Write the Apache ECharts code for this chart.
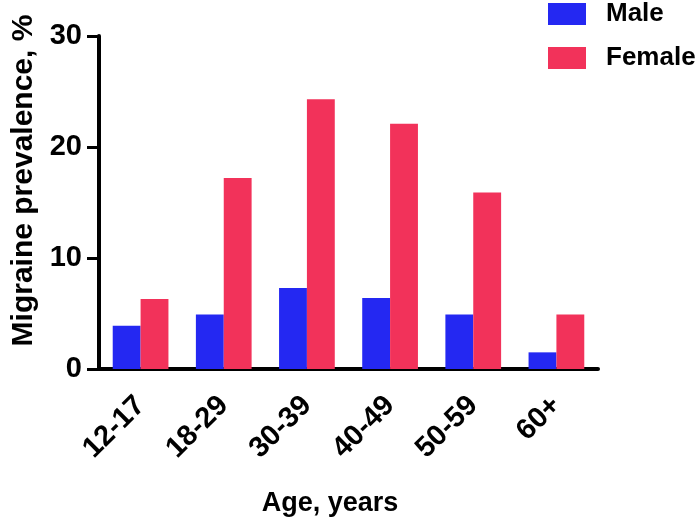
<!DOCTYPE html>
<html>
<head>
<meta charset="utf-8">
<script src="https://cdn.jsdelivr.net/npm/echarts@6/dist/echarts.min.js"></script>
<style>html,body{margin:0;padding:0;background:#fff}#c{width:700px;height:522px}</style>
</head>
<body>
<div id="c"></div>
<script>
const categories = ['12-17', '18-29', '30-39', '40-49', '50-59', '60+'];
const maleValues = [3.9, 4.9, 7.3, 6.4, 4.9, 1.5];
const femaleValues = [6.3, 17.2, 24.3, 22.1, 15.9, 4.9];
const seriesNames = ['Male', 'Female'];

const font = '"Liberation Sans", Arial, sans-serif';
const chart = echarts.init(document.getElementById('c'), null, {renderer: 'canvas'});
chart.setOption({
  animation: false,
  backgroundColor: '#fff',
  legend: {
    orient: 'vertical',
    left: 543,
    top: -4,
    itemWidth: 38,
    itemHeight: 22,
    itemGap: 18,
    icon: 'rect',
    textStyle: {fontFamily: font, fontWeight: 'bold', fontSize: 26, lineHeight: 22, color: '#000', padding: [0, 0, 0, 15]},
    data: seriesNames
  },
  grid: {left: 99, right: 102, top: 36, bottom: 153, containLabel: false},
  xAxis: {
    type: 'category',
    data: categories,
    name: 'Age, years',
    nameLocation: 'middle',
    nameGap: 121,
    nameTextStyle: {fontFamily: font, fontWeight: 'bold', fontSize: 27, color: '#000', padding: [0, 37, 0, 0]},
    axisLine: {lineStyle: {color: '#000', width: 4}},
    axisTick: {alignWithLabel: true, length: 11, lineStyle: {color: '#000', width: 3}},
    axisLabel: {rotate: 45, fontFamily: font, fontWeight: 'bold', fontSize: 29, color: '#000', margin: 32, interval: 0}
  },
  yAxis: {
    type: 'value',
    min: 0, max: 30, interval: 10,
    name: 'Migraine prevalence, %',
    nameLocation: 'middle',
    nameGap: 60,
    nameTextStyle: {fontFamily: font, fontWeight: 'bold', fontSize: 30, color: '#000', padding: [0, 0, 0, 44]},
    axisLine: {show: true, lineStyle: {color: '#000', width: 4}},
    axisTick: {show: true, length: 12, lineStyle: {color: '#000', width: 3}},
    splitLine: {show: false},
    axisLabel: {fontFamily: font, fontWeight: 'bold', fontSize: 29, color: '#000', margin: 17}
  },
  series: [
    {name: seriesNames[0], type: 'bar', data: maleValues, barGap: '0%', barCategoryGap: '33%', itemStyle: {color: '#2428F2'}},
    {name: seriesNames[1], type: 'bar', data: femaleValues, barGap: '0%', barCategoryGap: '33%', itemStyle: {color: '#F2325A'}}
  ]
});
</script>
</body>
</html>
